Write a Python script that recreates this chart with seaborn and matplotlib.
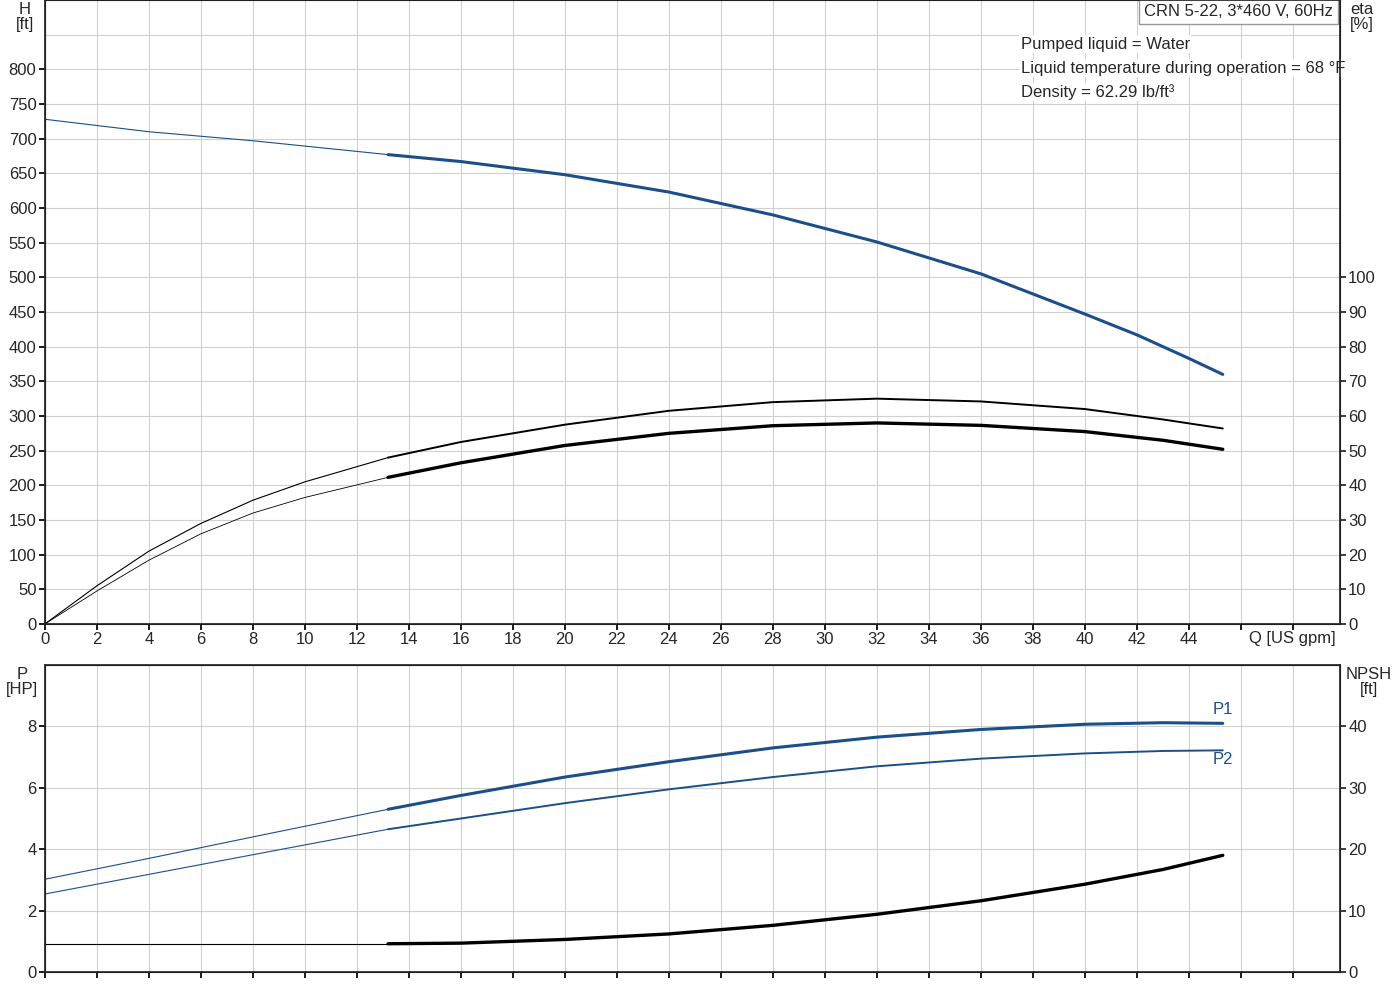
import matplotlib
matplotlib.use("Agg")
import matplotlib.pyplot as plt
import seaborn as sns
import numpy as np

sns.set_theme(style="white")
plt.rcParams['font.family'] = ['Liberation Sans', 'DejaVu Sans']

BLUE = "#1a4f8a"
# data
q_h = [0, 4, 8, 13.2, 16, 20, 24, 28, 32, 36, 40, 42, 44, 45.3]
h_ft = [728, 710, 697, 677, 667, 648, 623, 590, 551, 505, 447, 417, 383, 360]
q_e = [0, 2, 4, 6, 8, 10, 13.2, 16, 20, 24, 28, 32, 36, 40, 43, 45.3]
eta_upper = [0, 11, 21, 29, 35.7, 41, 48, 52.5, 57.5, 61.5, 64, 65, 64.2, 62, 59, 56.4]
eta_lower = [0, 9.5, 18.4, 26, 32, 36.5, 42.3, 46.5, 51.5, 55, 57.2, 58, 57.3, 55.5, 53, 50.4]
q_p = [0, 4, 8, 13.2, 16, 20, 24, 28, 32, 36, 40, 43, 45.3]
p1 = [3.02, 3.7, 4.4, 5.3, 5.75, 6.35, 6.85, 7.3, 7.65, 7.9, 8.07, 8.12, 8.1]
p2 = [2.54, 3.18, 3.82, 4.65, 5.0, 5.5, 5.95, 6.35, 6.7, 6.95, 7.12, 7.2, 7.22]
npsh = [4.6, 4.6, 4.6, 4.6, 4.7, 5.3, 6.2, 7.6, 9.4, 11.6, 14.3, 16.7, 19]
Q_OP = 13.2

fig = plt.figure(figsize=(14, 10), dpi=100)
ax1 = fig.add_axes([0.032, 0.376, 0.925, 0.624])
ax3 = fig.add_axes([0.032, 0.028, 0.925, 0.307])

def split(x, y, lwthin, lwthick, color, ax):
    x = np.array(x); y = np.array(y)
    m1 = x <= Q_OP; m2 = x >= Q_OP
    sns.lineplot(x=x[m1], y=y[m1], ax=ax, color=color, lw=lwthin, sort=False)
    sns.lineplot(x=x[m2], y=y[m2], ax=ax, color=color, lw=lwthick, sort=False)

xmax = 49.8
for ax in (ax1, ax3):
    ax.set_xlim(0, xmax)
    ax.set_xticks(np.arange(0, 49, 2))
    ax.grid(True, which="both", color="#d0d0d0", lw=0.8)
    for s in ax.spines.values():
        s.set_color("black"); s.set_linewidth(0.8)
    ax.tick_params(length=4, color="black", labelsize=12, pad=2, direction="out", bottom=True, left=True)
    ax.tick_params(which="minor", length=0)

ax1.set_xticklabels([str(v) if v <= 44 else "" for v in range(0, 49, 2)])
ax3.set_xticklabels([])
ax1.set_ylim(0, 900)
ax1.set_yticks(np.arange(0, 801, 50))
ax1.set_yticks([850], minor=True)
split(q_h, h_ft, 0.8, 2.2, BLUE, ax1)

ax2 = ax1.twinx()
ax2.set_ylim(0, 180)
ax2.set_yticks(np.arange(0, 101, 10))
ax2.tick_params(length=4, labelsize=12, pad=2, right=True)
ax2.grid(False)
split(q_e, eta_upper, 0.8, 1.4, "black", ax2)
split(q_e, eta_lower, 0.6, 2.4, "black", ax2)

ax3.set_ylim(0, 10)
ax3.set_yticks([0, 2, 4, 6, 8])
ax3.set_yticks([10], minor=True)
split(q_p, p1, 0.8, 2.2, BLUE, ax3)
split(q_p, p2, 0.8, 1.4, BLUE, ax3)
ax4 = ax3.twinx()
ax4.set_ylim(0, 50)
ax4.set_yticks([0, 10, 20, 30, 40])
ax4.tick_params(length=4, labelsize=12, pad=2, right=True)
ax4.grid(False)
split(q_p, npsh, 0.8, 2.4, "black", ax4)
for a in (ax1, ax2, ax3, ax4):
    a.set_xlabel(""); a.set_ylabel("")

fig.text(25/1400, 1-17/1000, "H\n[ft]", ha="center", va="center", fontsize=12, linespacing=1.0)
fig.text(1362/1400, 1-17/1000, "eta\n[%]", ha="center", va="center", fontsize=12, linespacing=1.0)
fig.text(22/1400, 1-682/1000, "P\n[HP]", ha="center", va="center", fontsize=12, linespacing=1.0)
fig.text(1369/1400, 1-682/1000, "NPSH\n[ft]", ha="center", va="center", fontsize=12, linespacing=1.0)
fig.text(1292/1400, 1-639/1000, "Q [US gpm]", ha="center", va="center", fontsize=12)
ax1.text(0.995, 0.993, "CRN 5-22, 3*460 V, 60Hz", transform=ax1.transAxes, ha="right", va="top",
         fontsize=12, bbox=dict(facecolor="white", edgecolor="#999999", boxstyle="square,pad=0.3"))
for i, t in enumerate(["Pumped liquid = Water", "Liquid temperature during operation = 68 \u00b0F",
                       "Density = 62.29 lb/ft\u00b3"]):
    ax1.text((1021-45)/1295, 1 - (44 + 24*i)/624, t, transform=ax1.transAxes,
             ha="left", va="center", fontsize=12,
             bbox=dict(facecolor="white", edgecolor="none", pad=1))
ax3.text(45.3, p1[-1] + 0.45, "P1", color=BLUE, fontsize=12, ha="center", va="center")
ax3.text(45.3, p2[-1] - 0.3, "P2", color=BLUE, fontsize=12, ha="center", va="center")

fig.savefig("out.png", dpi=100)
